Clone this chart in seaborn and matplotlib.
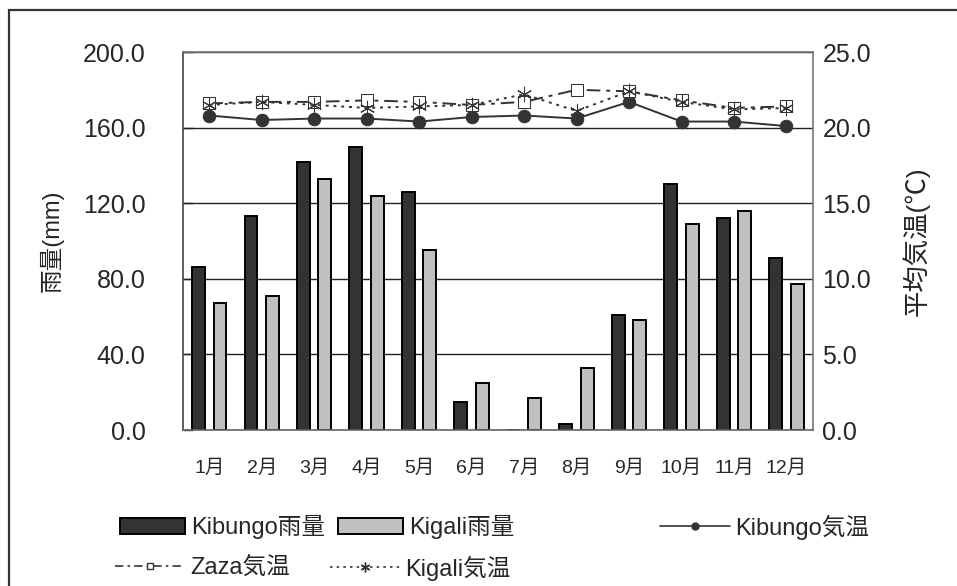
import numpy as np
import pandas as pd
import matplotlib
matplotlib.use("Agg")
import matplotlib.pyplot as plt
import matplotlib.patches as mpatches
from matplotlib.lines import Line2D
from matplotlib.ticker import FormatStrFormatter, FixedLocator
import seaborn as sns

# ---- data ----
months = ["1月", "2月", "3月", "4月", "5月", "6月", "7月", "8月", "9月", "10月", "11月", "12月"]
kibungo_rain = [86, 113, 142, 150, 126, 15, 0, 3, 61, 130, 112, 91]
kigali_rain = [67, 71, 133, 124, 95, 25, 17, 33, 58, 109, 116, 77]
kibungo_temp = [20.8, 20.5, 20.6, 20.6, 20.4, 20.7, 20.8, 20.6, 21.7, 20.4, 20.4, 20.1]
zaza_temp = [21.6, 21.7, 21.7, 21.8, 21.7, 21.5, 21.7, 22.5, 22.4, 21.8, 21.3, 21.4]
kigali_temp = [21.5, 21.7, 21.5, 21.3, 21.4, 21.5, 22.2, 21.1, 22.4, 21.7, 21.2, 21.3]
rain_series = ["Kibungo雨量", "Kigali雨量"]
temp_series = ["Kibungo気温", "Zaza気温", "Kigali気温"]

sns.set_style("white")
plt.rcParams["font.family"] = ["Liberation Sans", "Noto Sans CJK JP", "DejaVu Sans"]

dark = "#333333"
light = "#C0C0C0"

df = pd.DataFrame({
    "month": months * 2,
    "rain": kibungo_rain + kigali_rain,
    "station": [rain_series[0]] * 12 + [rain_series[1]] * 12,
})

fig = plt.figure(figsize=(9.57, 5.86), dpi=100)
ax = fig.add_axes([183 / 957, 1 - 430 / 586, (812.7 - 183) / 957, (430 - 52) / 586])

sns.barplot(data=df, x="month", y="rain", hue="station", order=months,
            hue_order=rain_series, palette=[dark, light], edgecolor="black",
            linewidth=1.4, width=0.82, gap=0.4, ax=ax, legend=False, errorbar=None)

ax.set_xlim(-0.5, 11.5)
ax.set_ylim(0, 200)
ax.set_yticks(np.arange(0, 201, 40))
ax.yaxis.set_major_formatter(FormatStrFormatter("%.1f"))
ax.set_axisbelow(True)
ax.yaxis.grid(True, color="#222222", lw=1.0)
ax.xaxis.grid(False)
ax.set_xlabel("")
ax.set_ylabel("雨量(mm)", fontsize=17, labelpad=14)
ax.tick_params(axis="y", direction="in", length=7, width=1, color="#222222",
               labelsize=18, pad=27)
ax.tick_params(axis="x", which="major", length=0, labelsize=14, pad=21)
ax.xaxis.set_minor_locator(FixedLocator(np.arange(0.5, 11, 1)))
ax.tick_params(axis="x", which="minor", direction="in", length=6, width=1, color="#888888")
for s in ax.spines.values():
    s.set_color("#777777")
    s.set_linewidth(1.2)
ax.spines["left"].set_color("#444444")
ax.spines["bottom"].set_color("#666666")

ax2 = ax.twinx()
pos = np.arange(len(months))
sns.lineplot(x=pos, y=kibungo_temp, ax=ax2, color=dark, lw=1.4, marker="o",
             markersize=9, markeredgecolor=dark, markerfacecolor=dark)
sns.lineplot(x=pos, y=zaza_temp, ax=ax2, color=dark, lw=1.4, marker="s",
             markersize=8, markeredgecolor=dark, markerfacecolor="white",
             dashes=(7, 3, 2, 3))
sns.lineplot(x=pos, y=kigali_temp, ax=ax2, color=dark, lw=1.4, marker=(6, 2, 0),
             markersize=11, markeredgecolor=dark, dashes=(1.5, 2.5))
ax2.set_ylim(0, 25)
ax2.set_yticks(np.arange(0, 26, 5))
ax2.yaxis.set_major_formatter(FormatStrFormatter("%.1f"))
ax2.grid(False)
ax2.tick_params(axis="y", direction="in", length=0, labelsize=18, pad=7)
ax2.set_ylabel("平均気温(℃)", fontsize=19, rotation=90, labelpad=22)
for s in ax2.spines.values():
    s.set_visible(False)
ax.set_xlim(-0.5, 11.5)

# legend: one entry per slot, so the columns sit where the reference puts them
entries = [
    (mpatches.Patch(facecolor=dark, edgecolor="black", lw=1.4), rain_series[0], 120, 527),
    (mpatches.Patch(facecolor=light, edgecolor="black", lw=1.4), rain_series[1], 338, 527),
    (Line2D([], [], color=dark, lw=1.2, marker="o", markersize=5), temp_series[0], 660, 527),
    (Line2D([], [], color=dark, lw=1.2, marker="s", markersize=5,
            markerfacecolor="white", dashes=(5, 2.5, 1.5, 2.5)), temp_series[1], 115, 568),
    (Line2D([], [], color=dark, lw=1.2, marker=(6, 2, 0), markersize=7,
            dashes=(1.5, 2.5)), temp_series[2], 330, 568),
]
for h, lab, px, py in entries:
    hl = 2.95 if isinstance(h, Line2D) else 2.75
    lg = fig.legend([h], [lab], loc="center left",
                    bbox_to_anchor=(px / 957, 1 - py / 586), frameon=False, fontsize=17,
                    handlelength=hl, handleheight=0.7, handletextpad=0.25,
                    borderpad=0, borderaxespad=0)

# outer frame (right and bottom edges lie outside the image)
fig.patches.append(mpatches.Rectangle((8.5 / 957, -0.2), 2.0, 1.2 - 9.5 / 586,
                                      transform=fig.transFigure, fill=False,
                                      edgecolor="#333333", lw=1.6))

fig.savefig("out.png", dpi=100)
